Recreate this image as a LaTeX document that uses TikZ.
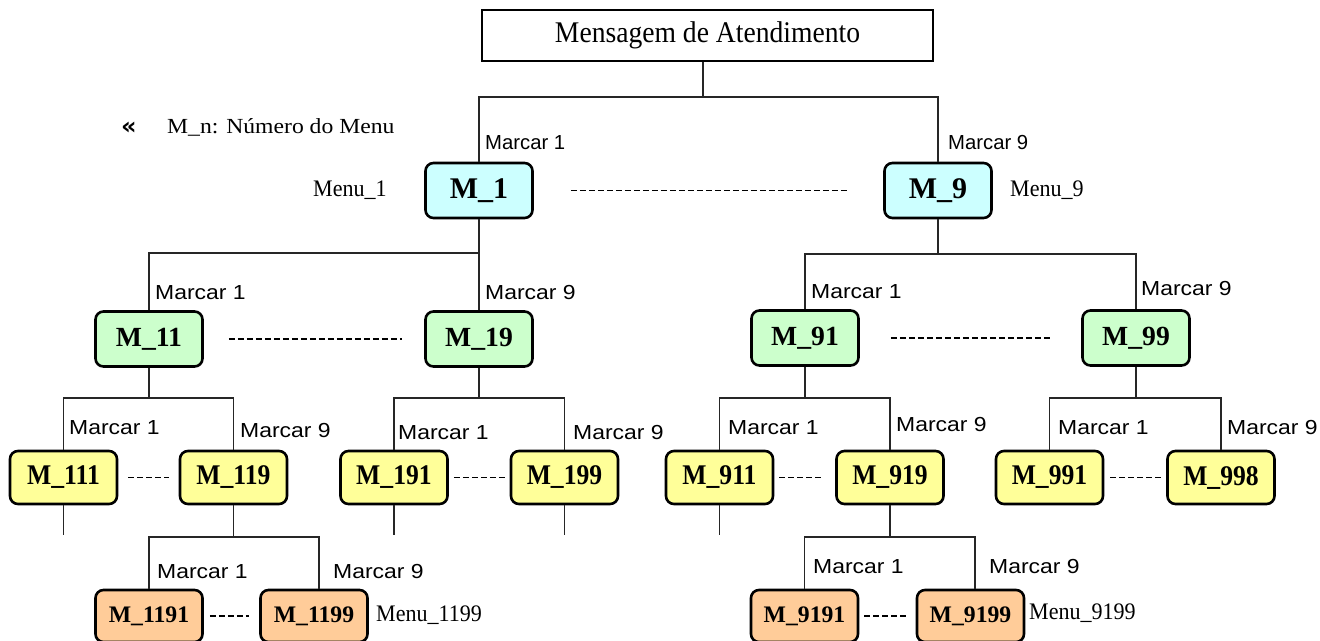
\documentclass[tikz,border=0pt]{standalone}
\usepackage{fontspec}
\setmainfont{Liberation Serif}
\newfontfamily\sansf{Liberation Sans}
\newfontfamily\sansw{Liberation Sans}[FakeStretch=1.13]
\newfontfamily\legendf{Liberation Serif}[FakeStretch=1.1]
\newfontfamily\titlef{Liberation Serif}[FakeStretch=0.92]
\newfontfamily\narrowb{Liberation Serif}[FakeStretch=0.9]
\newfontfamily\menuf{Liberation Serif}[FakeStretch=0.93]
\newfontfamily\guillf{DejaVu Sans}
\definecolor{cyanbox}{HTML}{CCFFFF}
\definecolor{greenbox}{HTML}{CCFFCC}
\definecolor{yellowbox}{HTML}{FFFF99}
\definecolor{orangebox}{HTML}{FFCC99}
\tikzset{
  menubox/.style={draw=black, line width=2.6pt, rounded corners=8pt, inner sep=0pt,
    minimum width=107pt, font=\bfseries},
  lvlone/.style={menubox, fill=cyanbox, minimum height=55pt, font=\bfseries\fontsize{30}{34}\selectfont},
  lvltwo/.style={menubox, fill=greenbox, minimum height=55pt, font=\bfseries\fontsize{27.7}{31}\selectfont},
  lvlthree/.style={menubox, fill=yellowbox, minimum height=53pt, font=\narrowb\bfseries\fontsize{28.5}{32}\selectfont},
  lvlfour/.style={menubox, fill=orangebox, minimum height=52pt, font=\bfseries\fontsize{23.7}{27}\selectfont},
  conn/.style={draw=black!85, line width=1.2pt},
  dashline/.style={draw=black, line width=1.6pt, dash pattern=on 6pt off 3pt},
  marcarone/.style={anchor=west, inner sep=0pt, font=\sansf\fontsize{20.3}{24}\selectfont},
  marcar/.style={anchor=west, inner sep=0pt, font=\sansw\fontsize{20.3}{24}\selectfont},
  menulabel/.style={anchor=west, inner sep=0pt, font=\menuf\fontsize{23.7}{27}\selectfont},
}
\begin{document}
\begin{tikzpicture}[x=1pt, y=-1pt]
\useasboundingbox (0,0) rectangle (1320,640);
\fill[white] (0,0) rectangle (1320,640);

% title
\node[draw=black, line width=2.6pt, minimum width=451pt, minimum height=51pt, inner sep=0pt,
  font=\titlef\fontsize{30}{34}\selectfont] (title) at (707.5,35.5) {Mensagem de Atendimento};

% legend
\node[anchor=west, inner sep=0pt, font=\guillf\bfseries\fontsize{24}{28}\selectfont] (legmark) at (121,128) {«};
\node[anchor=west, inner sep=0pt, font=\legendf\fontsize{21.5}{25}\selectfont] (legtext) at (167,127) {M\_n: Número do Menu};

% level 1
\node[lvlone] (M_1) at (479,190.5) {M\_1};
\node[lvlone] (M_9) at (938,190.5) {M\_9};
% level 2
\node[lvltwo] (M_11) at (149,339) {M\_11};
\node[lvltwo] (M_19) at (479,339) {M\_19};
\node[lvltwo] (M_91) at (805,338) {M\_91};
\node[lvltwo] (M_99) at (1136,338) {M\_99};
% level 3
\node[lvlthree] (M_111) at (63.5,477.5) {M\_111};
\node[lvlthree] (M_119) at (233.5,477.5) {M\_119};
\node[lvlthree] (M_191) at (394,477.5) {M\_191};
\node[lvlthree] (M_199) at (564.5,477.5) {M\_199};
\node[lvlthree] (M_911) at (719.5,477.5) {M\_911};
\node[lvlthree] (M_919) at (890,477.5) {M\_919};
\node[lvlthree] (M_991) at (1049.5,477.5) {M\_991};
\node[lvlthree] (M_998) at (1221,477.5) {M\_998};
% level 4
\node[lvlfour] (M_1191) at (149,616) {M\_1191};
\node[lvlfour] (M_1199) at (314,616) {M\_1199};
\node[lvlfour] (M_9191) at (804.5,616) {M\_9191};
\node[lvlfour] (M_9199) at (970.5,616) {M\_9199};

% junction coordinates
\coordinate (j0) at (703,97);
\coordinate (j1) at (479,253);
\coordinate (j9) at (938,254);
\coordinate (j11) at (149,398);
\coordinate (j19) at (479,398);
\coordinate (j91) at (805,398);
\coordinate (j99) at (1136,398);
\coordinate (j119) at (233.5,537);
\coordinate (c1199) at (319,537);
\coordinate (j919) at (890,537);
\coordinate (c9199) at (975,537);
\coordinate (e111) at (63.5,535);
\coordinate (e191) at (394,535);
\coordinate (e199) at (564.5,535);
\coordinate (e911) at (719.5,535);

% connectors
\draw[conn] (j0 |- title.south) -- (j0);
\draw[conn] (M_1.north) |- (j0) -| (M_9.north);
\draw[conn] (M_1.south) -- (M_19.north);
\draw[conn] (M_11.north) |- (j1);
\draw[conn] (M_9.south) -- (j9);
\draw[conn] (M_91.north) |- (j9) -| (M_99.north);
\draw[conn] (M_11.south) -- (j11);
\draw[conn] (M_111.north) |- (j11) -| (M_119.north);
\draw[conn] (M_19.south) -- (j19);
\draw[conn] (M_191.north) |- (j19) -| (M_199.north);
\draw[conn] (M_91.south) -- (j91);
\draw[conn] (M_911.north) |- (j91) -| (M_919.north);
\draw[conn] (M_99.south) -- (j99);
\draw[conn] (M_991.north) |- (j99) -| (M_998.north);
\draw[conn] (M_111.south) -- (e111);
\draw[conn] (M_191.south) -- (e191);
\draw[conn] (M_199.south) -- (e199);
\draw[conn] (M_911.south) -- (e911);
\draw[conn] (M_119.south) -- (j119);
\draw[conn] (M_1191.north) |- (j119) -- (c1199) -- (c1199 |- M_1199.north);
\draw[conn] (M_919.south) -- (j919);
\draw[conn] (M_9191.north) |- (j919) -- (c9199) -- (c9199 |- M_9199.north);

% dashed links
\draw[dashline, shorten <=37pt, shorten >=36pt] (M_1) -- (M_9);
\draw[dashline, shorten <=25pt, shorten >=22pt] (M_11) -- (M_19);
\draw[dashline, shorten <=31pt, shorten >=30pt] (M_91) -- (M_99);
\draw[dashline, shorten <=10pt, shorten >=10pt] (M_111) -- (M_119);
\draw[dashline, shorten <=5pt, shorten >=5pt] (M_191) -- (M_199);
\draw[dashline, shorten <=5pt, shorten >=14pt] (M_911) -- (M_919);
\draw[dashline, shorten <=6pt, shorten >=5pt] (M_991) -- (M_998);
\draw[dashline, shorten <=6pt, shorten >=10pt] (M_1191) -- (M_1199);
\draw[dashline, shorten <=5pt, shorten >=10pt] (M_9191) -- (M_9199);

% Marcar labels
\node[marcarone] (t1a) at (485,143) {Marcar 1};
\node[marcarone] (t1b) at (948,143) {Marcar 9};
\node[marcar] (t2a) at (155,293) {Marcar 1};
\node[marcar] (t2b) at (485,293) {Marcar 9};
\node[marcar] (t2c) at (811,292) {Marcar 1};
\node[marcar] (t2d) at (1141,289) {Marcar 9};
\node[marcar] (t3a) at (69,428) {Marcar 1};
\node[marcar] (t3b) at (240,431) {Marcar 9};
\node[marcar] (t3c) at (398,433) {Marcar 1};
\node[marcar] (t3d) at (573,433) {Marcar 9};
\node[marcar] (t3e) at (728,428) {Marcar 1};
\node[marcar] (t3f) at (896,425) {Marcar 9};
\node[marcar] (t3g) at (1058,428) {Marcar 1};
\node[marcar] (t3h) at (1227,428) {Marcar 9};
\node[marcar] (t4a) at (157,572) {Marcar 1};
\node[marcar] (t4b) at (333,572) {Marcar 9};
\node[marcar] (t4c) at (813,567) {Marcar 1};
\node[marcar] (t4d) at (989,567) {Marcar 9};

% Menu labels
\node[menulabel] (l1) at (313,190) {Menu\_1};
\node[menulabel] (l9) at (1010,190) {Menu\_9};
\node[menulabel] (l1199) at (376,615) {Menu\_1199};
\node[menulabel] (l9199) at (1029,613) {Menu\_9199};
\end{tikzpicture}
\end{document}
